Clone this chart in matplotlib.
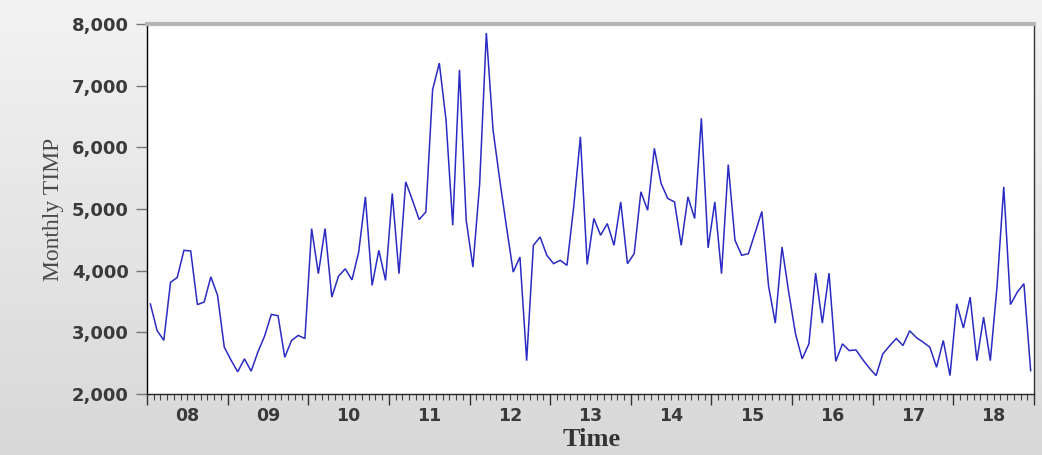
import numpy as np
import matplotlib
matplotlib.use("Agg")
import matplotlib.pyplot as plt
from matplotlib.ticker import MultipleLocator, FuncFormatter
import matplotlib.transforms as mtransforms

# ---- data (monthly, 2008M01 .. 2018M12) ----
start_year = 2008
timp = [3460, 3030, 2870, 3810, 3890, 4330, 4320, 3450, 3490, 3900, 3600, 2760,
        2550, 2360, 2570, 2370, 2680, 2940, 3290, 3270, 2595, 2866, 2950, 2900,
        4683, 3951, 4683, 3571, 3910, 4030, 3850, 4300, 5197, 3761, 4330, 3842,
        5252, 3951, 5441, 5143, 4829, 4953, 6932, 7366, 6444, 4737, 7257, 4818,
        4059, 5400, 7854, 6281, 5468, 4709, 3977, 4221, 2541, 4411, 4546, 4249,
        4114, 4168, 4086, 5034, 6172, 4100, 4846, 4574, 4764, 4411, 5115, 4114,
        4276, 5279, 4980, 5984, 5415, 5171, 5115, 4411, 5197, 4846, 6472, 4370,
        5115, 3951, 5720, 4493, 4249, 4276, 4615, 4960, 3750, 3150, 4384, 3650,
        2980, 2569, 2813, 3960, 3150, 3960, 2530, 2813, 2704, 2715, 2560, 2420,
        2298, 2650, 2780, 2900, 2786, 3025, 2915, 2840, 2759, 2433, 2868, 2298,
        3463, 3070, 3571, 2541, 3246, 2541, 3745, 5359, 3450, 3650, 3789, 2379]
year_labels = ["08", "09", "10", "11", "12", "13", "14", "15", "16", "17", "18"]
y_ticks = [2000, 3000, 4000, 5000, 6000, 7000, 8000]

W, H = 1042, 455
fig = plt.figure(figsize=(W / 100, H / 100), dpi=100)

# background gradient
bg = fig.add_axes([0, 0, 1, 1], zorder=-10)
grad = np.linspace(0, 1, 256).reshape(-1, 1)
bg.imshow(grad, aspect="auto", cmap=matplotlib.colors.LinearSegmentedColormap.from_list(
    "g", ["#f3f3f3", "#d8d8d8"]), extent=[0, 1, 0, 1])
bg.axis("off")

left, right, top, bottom = 147, 1034, 24, 394
ax = fig.add_axes([left / W, 1 - bottom / H, (right - left) / W, (bottom - top) / H])
ax.set_facecolor("white")

n = len(timp)
x = start_year + (np.arange(n) + 0.5) / 12.0
ax.plot(x, timp, color="#2a2ac4", lw=1.1, solid_joinstyle="miter")

ax.set_xlim(start_year, start_year + len(year_labels))
ax.set_ylim(2000, 8000)

# spines
ax.spines["left"].set_color("black")
ax.spines["left"].set_linewidth(1.0)
ax.spines["bottom"].set_color("#222222")
ax.spines["bottom"].set_linewidth(1.0)
ax.spines["right"].set_color("#333333")
ax.spines["right"].set_linewidth(1.0)
ax.spines["top"].set_color("#b5b5b5")
ax.spines["top"].set_linewidth(3.0)

# y axis
ax.set_yticks(y_ticks)
ax.yaxis.set_major_formatter(FuncFormatter(lambda v, p: f"{int(v):,}"))
ax.tick_params(axis="y", direction="out", length=8, width=1, color="#777777",
               labelsize=13, labelcolor="#3a3a3a", pad=5)
for t in ax.get_yticklabels():
    t.set_fontweight("bold")
    t.set_family("DejaVu Sans")

# x axis: year ticks, monthly minor ticks, labels at mid-year
ax.xaxis.set_major_locator(MultipleLocator(1))
ax.xaxis.set_minor_locator(MultipleLocator(1 / 12))
ax.tick_params(axis="x", which="major", direction="out", length=8, width=1,
               color="#333333", labelbottom=False)
ax.tick_params(axis="x", which="minor", direction="out", length=4, width=0.8,
               color="#444444")

trans = mtransforms.blended_transform_factory(ax.transData, ax.transAxes)
for k, lab in enumerate(year_labels):
    ax.text(start_year + k + 0.5, -0.06, lab, transform=trans, ha="center", va="center",
            fontsize=12.5, fontweight="bold", color="#3a3a3a", family="DejaVu Sans")

ax.set_ylabel("Monthly TIMP", family="Liberation Serif", fontsize=17, color="#4a4a4a",
              labelpad=6)
fig.text(592 / W, 1 - 440 / H, "Time", family="Liberation Serif", fontsize=19,
         fontweight="bold", color="#333333", ha="center", va="center")

fig.savefig("out.png", dpi=100)
